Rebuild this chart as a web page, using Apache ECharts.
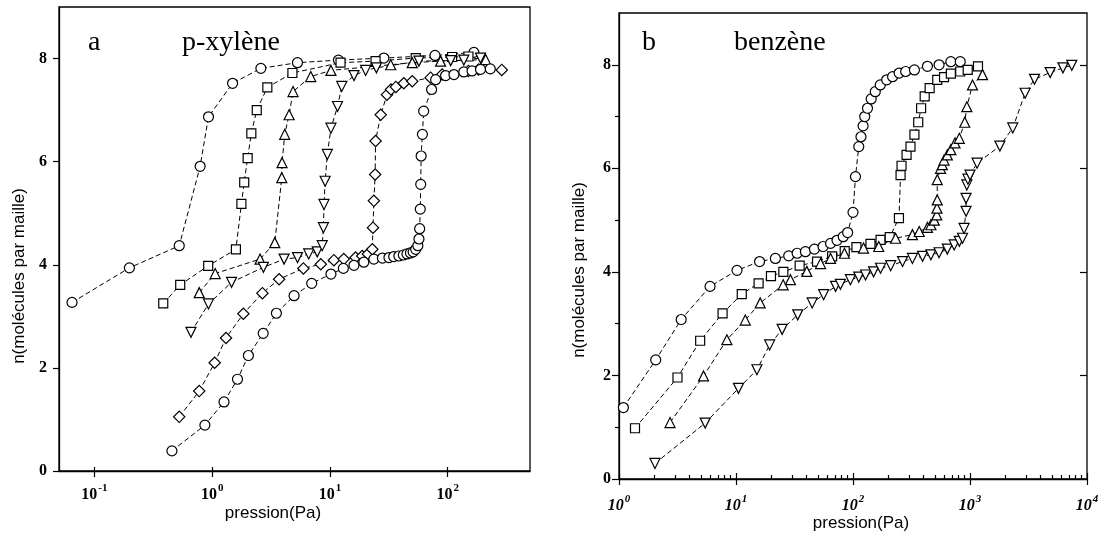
<!DOCTYPE html>
<html>
<head>
<meta charset="utf-8">
<script src="https://cdn.jsdelivr.net/npm/echarts/dist/echarts.min.js"></script>
<style>
html,body{margin:0;padding:0;background:#fff;}
#chart{width:1102px;height:542px;}
</style>
</head>
<body>
<div id="chart"></div>
<script>
// ---- Panel a : p-xylène  [pression (Pa), n]
const xylCircles = [[0.0645,3.27],[0.198,3.94],[0.525,4.37],[0.79,5.91],[0.93,6.87],[1.49,7.52],[2.59,7.81],[5.3,7.92],[11.8,7.97],[28.7,8.01],[78,8.06],[167,8.12]];
const xylSquares = [[0.384,3.25],[0.535,3.61],[0.925,3.98],[1.59,4.30],[1.77,5.18],[1.87,5.60],[2.0,6.07],[2.15,6.55],[2.39,7.0],[2.94,7.44],[4.8,7.72],[12.3,7.92],[24.4,7.95],[53.5,8.01],[109,8.03],[150,8.04]];
const xylTriUp = [[0.776,3.46],[1.06,3.83],[2.55,4.11],[3.4,4.43],[3.9,5.69],[3.92,5.98],[4.13,6.53],[4.5,6.91],[4.86,7.36],[6.87,7.65],[10.2,7.77],[32.8,7.88],[50,7.92],[87,7.95],[210,7.98]];
const xylTriDown = [[0.66,2.69],[0.93,3.24],[1.46,3.66],[2.72,3.95],[4.08,4.11],[5.3,4.14],[6.6,4.21],[7.8,4.25],[8.6,4.37],[8.8,4.72],[8.9,5.17],[9.1,5.62],[9.5,6.14],[10.2,6.65],[11.6,7.07],[12.6,7.46],[16,7.67],[20.1,7.77],[24.8,7.82],[57,7.95],[106,7.96],[137,7.97],[190,8.01]];
const xylDiamonds = [[0.525,1.05],[0.776,1.55],[1.05,2.10],[1.31,2.58],[1.84,3.05],[2.67,3.45],[3.7,3.72],[5.95,3.93],[8.36,4.01],[10.8,4.09],[13.1,4.11],[16.5,4.14],[18.8,4.17],[21,4.21],[22.9,4.30],[23.2,4.72],[23.6,5.24],[24.2,5.75],[24.4,6.40],[27,6.91],[30.5,7.30],[33,7.40],[36.3,7.45],[42.4,7.52],[50,7.56],[71.6,7.63],[89.7,7.69],[150,7.76],[183,7.79],[288,7.78]];
const xylHexagons = [[0.455,0.39],[0.867,0.89],[1.26,1.34],[1.64,1.78],[2.03,2.24],[2.71,2.67],[3.51,3.06],[4.96,3.40],[7.0,3.64],[10.2,3.82],[13.0,3.93],[16.0,3.99],[19.4,4.05],[23.6,4.11],[27.9,4.13],[31.7,4.14],[34.8,4.16],[38.5,4.17],[42,4.19],[45.1,4.21],[48.3,4.23],[50.9,4.25],[53.5,4.30],[55.8,4.37],[57,4.50],[57.8,4.70],[58.5,5.08],[59,5.56],[59.5,6.11],[61,6.53],[62.5,6.98],[73,7.40],[79,7.59],[96,7.67],[113,7.69],[137,7.74],[161,7.76],[190,7.79],[230,7.80]];

// ---- Panel b : benzène  [pression (Pa), n]
const benCircles = [[1.09,1.38],[2.06,2.30],[3.4,3.08],[6.0,3.72],[10.2,4.03],[15.9,4.20],[21.7,4.26],[28.2,4.31],[33.3,4.36],[39.2,4.39],[46.8,4.44],[55.5,4.49],[64.3,4.55],[73,4.61],[82.5,4.68],[90,4.76],[100,5.15],[105,5.84],[112,6.42],[117,6.61],[122,6.82],[126,7.0],[133,7.16],[143,7.34],[155,7.48],[171,7.61],[194,7.71],[218,7.77],[248,7.84],[282,7.87],[335,7.90],[433,7.97],[544,8.0],[686,8.06],[825,8.06]];
const benSquares = [[1.37,0.98],[3.16,1.96],[4.94,2.67],[7.68,3.20],[11.2,3.57],[15.6,3.78],[19.9,3.92],[25.4,4.0],[35,4.12],[49.3,4.20],[66.3,4.30],[85,4.40],[107,4.48],[141,4.54],[172,4.62],[206,4.67],[247,5.04],[255,5.87],[260,6.05],[287,6.26],[310,6.42],[335,6.65],[361,6.89],[382,7.16],[410,7.39],[452,7.55],[525,7.71],[600,7.76],[686,7.83],[825,7.87],[956,7.90],[1170,7.97]];
const benTriUp = [[2.73,1.09],[5.28,1.99],[8.36,2.69],[12,3.07],[16.1,3.40],[25.3,3.75],[29.2,3.85],[40.3,4.01],[52.8,4.16],[64.3,4.26],[84.5,4.36],[123,4.46],[166,4.49],[231,4.65],[322,4.72],[368,4.78],[433,4.86],[463,4.91],[495,5.0],[520,5.10],[522,5.23],[525,5.39],[525,5.78],[560,6.0],[580,6.07],[600,6.16],[640,6.26],[686,6.36],[745,6.49],[810,6.58],[902,6.89],[940,7.19],[1050,7.61],[1280,7.81]];
const benTriDown = [[2.03,0.30],[5.45,1.08],[10.5,1.75],[15.1,2.11],[19.4,2.59],[24.8,2.89],[33.7,3.17],[44.8,3.40],[56.1,3.56],[71,3.72],[78,3.76],[95,3.85],[112,3.90],[128,3.94],[150,4.0],[172,4.07],[210,4.12],[265,4.20],[322,4.26],[393,4.30],[463,4.33],[544,4.37],[640,4.44],[733,4.52],[810,4.59],[863,4.65],[890,4.84],[925,5.17],[925,5.42],[940,5.68],[960,5.79],[1000,5.87],[1150,6.10],[1800,6.43],[2320,6.78],[2960,7.45],[3560,7.72],[4840,7.85],[6230,7.94],[7410,7.99]];

// ---- tick values
const xTicksA = [0.1, 1, 10, 100];
const xTicksB = [1, 10, 100, 1000, 10000];
const xMinorB = [2,3,4,5,6,7,8,9,20,30,40,50,60,70,80,90,200,300,400,500,600,700,800,900,2000,3000,4000,5000,6000,7000,8000,9000];
const yTicks = [0, 2, 4, 6, 8];
const yMinorB = [1, 3, 5, 7];
const yRightB = [2, 4, 6, 8];

const serif = '"Liberation Serif", "DejaVu Serif", serif';
const sans = '"Liberation Sans", Arial, sans-serif';

function powLabel(v) {
  const e = Math.round(Math.log10(v));
  return '{b|10}{s|' + (e < 0 ? '-' + (-e) : e) + '}';
}
function richFor(italic) {
  return {
    b: {fontFamily: serif, fontWeight: 'bold', fontStyle: italic ? 'italic' : 'normal', fontSize: 16, color: '#000', verticalAlign: 'bottom', lineHeight: 20},
    s: {fontFamily: serif, fontWeight: 'bold', fontStyle: italic ? 'italic' : 'normal', fontSize: 11, color: '#000', verticalAlign: 'top', lineHeight: 20, padding: [0, 0, 0, 1]}
  };
}
const blackLine = {show: true, lineStyle: {color: '#000', width: 1.3}};

function xLog(grid, min, max, opts) {
  return Object.assign({
    type: 'log', logBase: 10, gridIndex: grid, min: min, max: max, position: 'bottom',
    splitLine: {show: false}, minorTick: {show: false}, minorSplitLine: {show: false},
    axisLine: {show: false}, axisLabel: {show: false}, axisTick: {show: false}
  }, opts);
}
function yVal(grid, opts) {
  return Object.assign({
    type: 'value', gridIndex: grid, min: 0, max: 9, position: 'left',
    splitLine: {show: false}, axisLine: {show: false}, axisLabel: {show: false}, axisTick: {show: false}
  }, opts);
}

function mk(data, symbol, rotate, xi, yi, size) {
  return {
    type: 'line', data: data, xAxisIndex: xi, yAxisIndex: yi,
    symbol: symbol, symbolRotate: rotate, symbolSize: size, showSymbol: true, showAllSymbol: true,
    lineStyle: {color: '#000', width: 1, type: [5, 3]},
    itemStyle: {color: '#fff', borderColor: '#000', borderWidth: 1.2},
    animation: false, silent: true
  };
}

const chart = echarts.init(document.getElementById('chart'), null, {renderer: 'canvas'});
chart.setOption({
  backgroundColor: '#fff',
  animation: false,
  grid: [
    {left: 59, top: 7, width: 471, height: 464, show: true, borderColor: '#000', borderWidth: 1.3, backgroundColor: 'transparent'},
    {left: 619, top: 13, width: 468, height: 466, show: true, borderColor: '#000', borderWidth: 1.3, backgroundColor: 'transparent'}
  ],
  xAxis: [
    xLog(0, 0.05, 500, {
      axisLine: blackLine,
      axisTick: {show: true, inside: false, length: 6, customValues: xTicksA, lineStyle: {color: '#000', width: 1.2}},
      axisLabel: {show: true, customValues: xTicksA, margin: 12, formatter: powLabel, rich: richFor(false)}
    }),
    xLog(0, 0.05, 500, {axisTick: {show: true, inside: true, length: 4, customValues: xTicksA, lineStyle: {color: '#000', width: 1.2}}}),
    xLog(1, 1, 10000, {
      axisLine: blackLine,
      axisTick: {show: true, inside: false, length: 6, customValues: xTicksB, lineStyle: {color: '#000', width: 1.2}},
      axisLabel: {show: true, customValues: xTicksB, margin: 15, formatter: powLabel, rich: richFor(true)}
    }),
    xLog(1, 1, 10000, {axisTick: {show: true, inside: true, length: 6, customValues: xTicksB, lineStyle: {color: '#000', width: 1.2}}}),
    xLog(1, 1, 10000, {axisTick: {show: true, inside: true, length: 4, customValues: xMinorB, lineStyle: {color: '#000', width: 1.2}}})
  ],
  yAxis: [
    yVal(0, {
      axisLine: blackLine,
      axisTick: {show: true, inside: false, length: 6, customValues: yTicks, lineStyle: {color: '#000', width: 1.2}},
      axisLabel: {show: true, customValues: yTicks, margin: 12, fontFamily: serif, fontWeight: 'bold', fontSize: 16, color: '#000'}
    }),
    yVal(1, {
      axisLine: blackLine,
      axisTick: {show: true, inside: false, length: 7, customValues: yTicks, lineStyle: {color: '#000', width: 1.2}},
      axisLabel: {show: true, customValues: yTicks, margin: 8, fontFamily: serif, fontWeight: 'bold', fontSize: 16, color: '#000'}
    }),
    yVal(1, {axisTick: {show: true, inside: false, length: 4, customValues: yMinorB, lineStyle: {color: '#000', width: 1.2}}}),
    yVal(1, {position: 'right', axisTick: {show: true, inside: true, length: 7, customValues: yRightB, lineStyle: {color: '#000', width: 1.2}}})
  ],
  series: [
    mk(xylCircles, 'circle', 0, 0, 0, 10),
    mk(xylSquares, 'rect', 0, 0, 0, 9),
    mk(xylTriUp, 'triangle', 0, 0, 0, 10),
    mk(xylTriDown, 'triangle', 180, 0, 0, 10),
    mk(xylDiamonds, 'rect', 45, 0, 0, 8),
    mk(xylHexagons, 'circle', 0, 0, 0, 10),
    mk(benCircles, 'circle', 0, 2, 1, 10),
    mk(benSquares, 'rect', 0, 2, 1, 9),
    mk(benTriUp, 'triangle', 0, 2, 1, 10),
    mk(benTriDown, 'triangle', 180, 2, 1, 10)
  ],
  graphic: [
    {type: 'text', left: 88, top: 29, style: {text: 'a', font: '28px ' + serif, fill: '#000'}},
    {type: 'text', left: 182, top: 29, style: {text: 'p-xylène', font: '28px ' + serif, fill: '#000'}},
    {type: 'text', left: 642, top: 29, style: {text: 'b', font: '28px ' + serif, fill: '#000'}},
    {type: 'text', left: 734, top: 29, style: {text: 'benzène', font: '28px ' + serif, fill: '#000'}},
    {type: 'text', x: 273, y: 513, style: {text: 'pression(Pa)', font: '17px ' + sans, fill: '#000', align: 'center', verticalAlign: 'middle'}},
    {type: 'text', x: 861, y: 523, style: {text: 'pression(Pa)', font: '17px ' + sans, fill: '#000', align: 'center', verticalAlign: 'middle'}},
    {type: 'text', x: 19, y: 276, rotation: Math.PI / 2, style: {text: 'n(molécules par maille)', font: '17px ' + sans, fill: '#000', align: 'center', verticalAlign: 'middle'}},
    {type: 'text', x: 579, y: 270, rotation: Math.PI / 2, style: {text: 'n(molécules par maille)', font: '17px ' + sans, fill: '#000', align: 'center', verticalAlign: 'middle'}}
  ]
});
</script>
</body>
</html>
